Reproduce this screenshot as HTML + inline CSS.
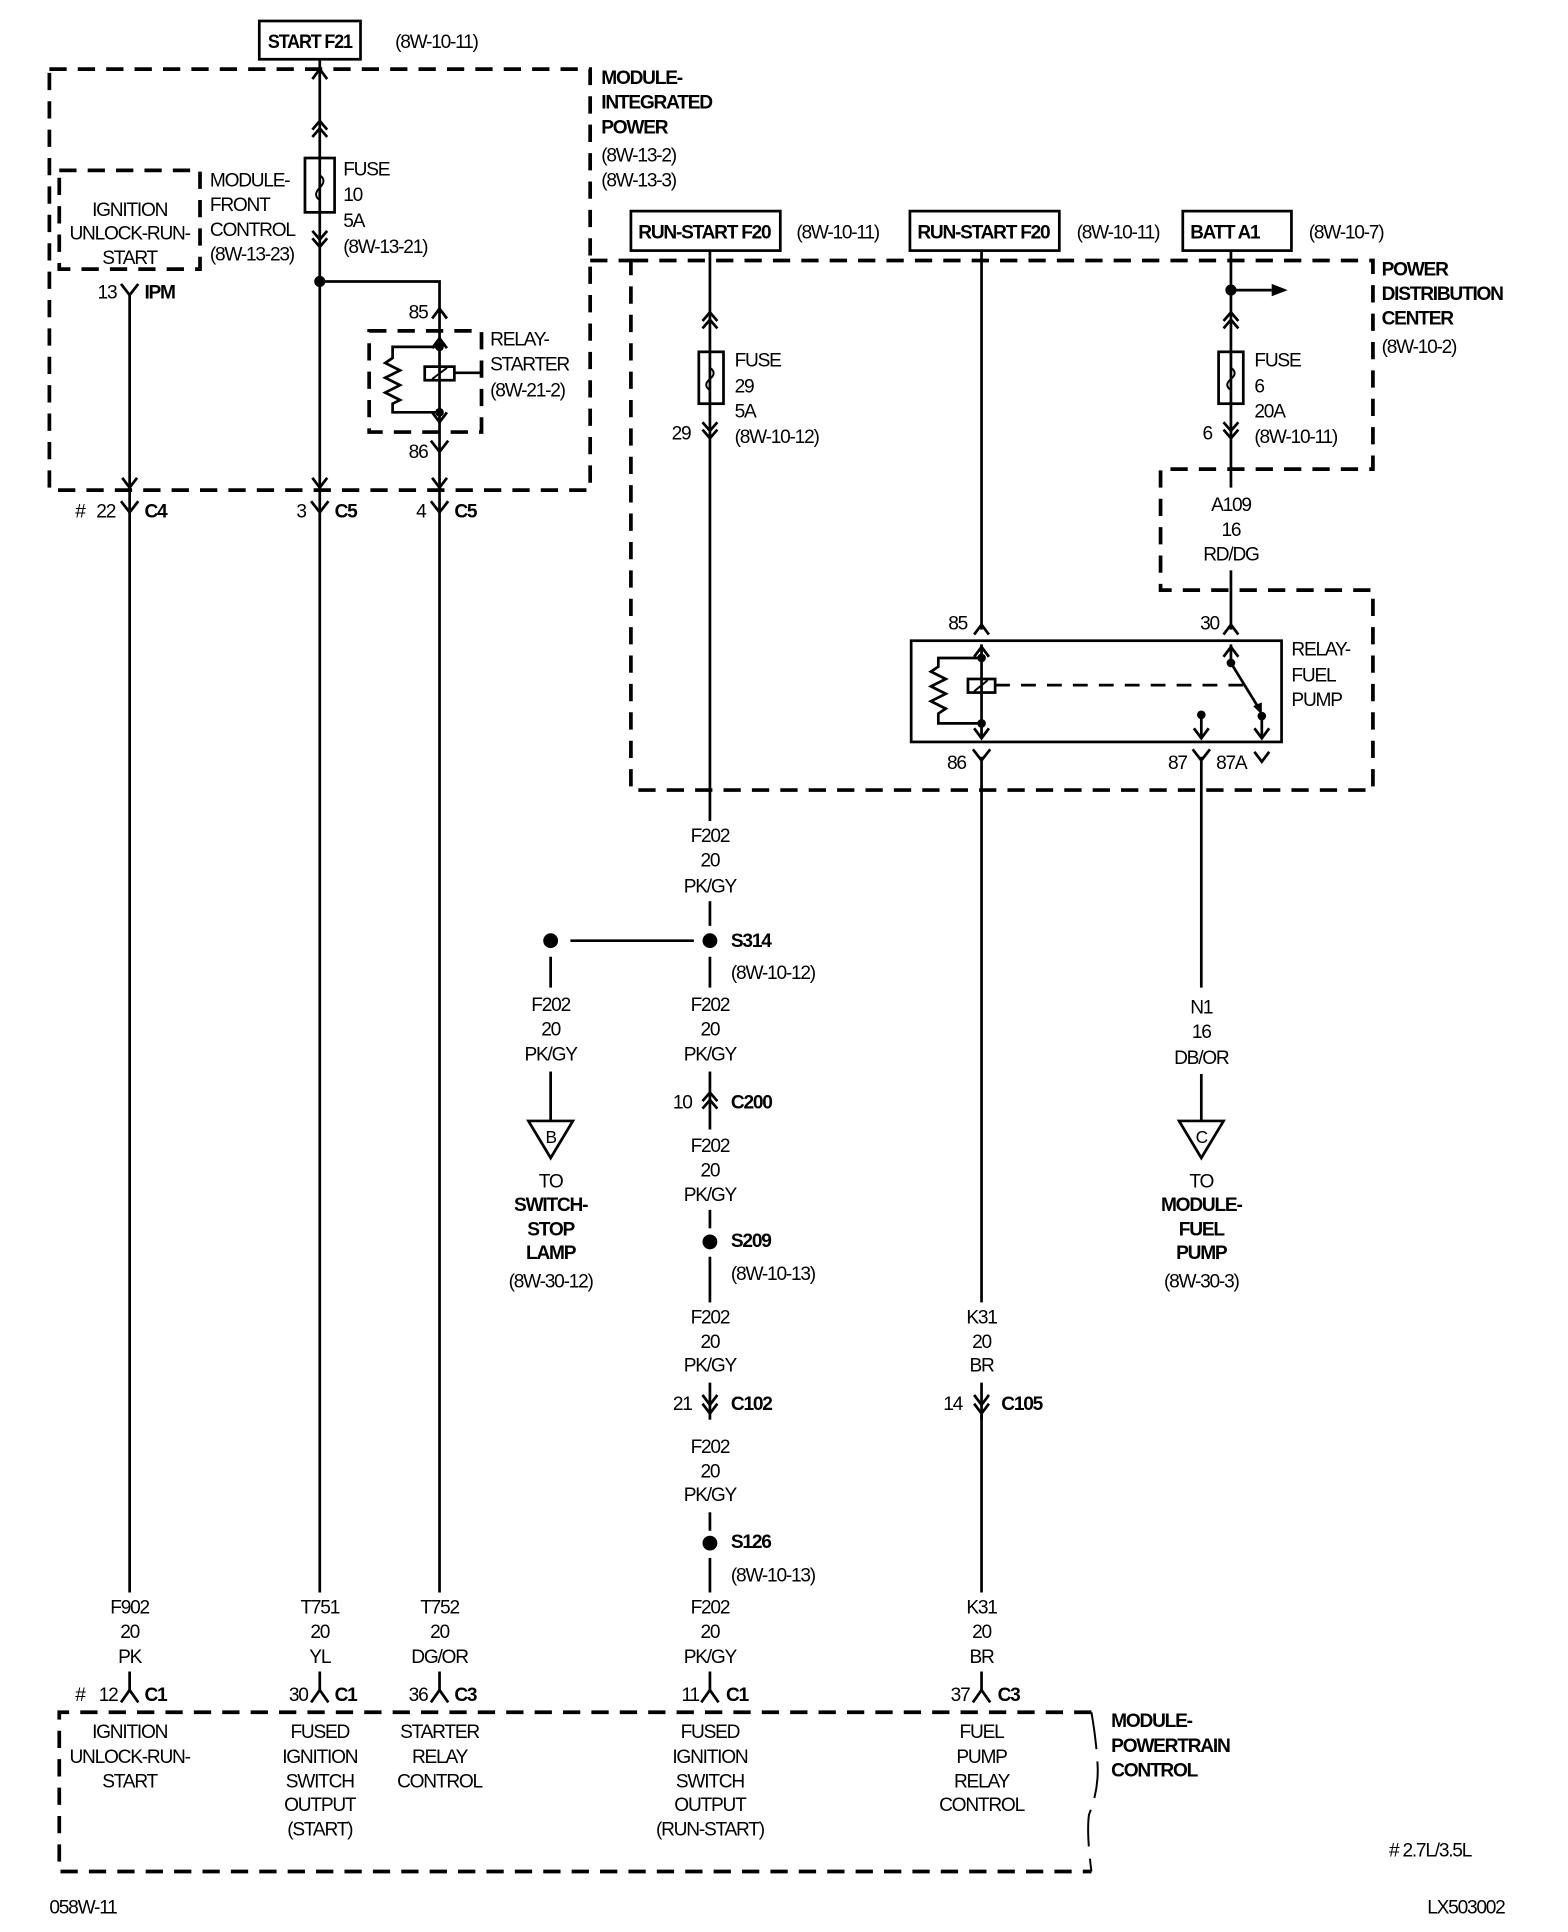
<!DOCTYPE html>
<html><head><meta charset="utf-8"><style>
html,body{margin:0;padding:0;background:#fff;}
svg{display:block;}
text{font-family:"Liberation Sans Narrow","Liberation Sans",sans-serif;font-size:15.5px;fill:#000;letter-spacing:-1px;}
.b{font-weight:bold;}
.m{text-anchor:middle;}
.w{stroke:#000;stroke-width:2.2;fill:none;}
.d{stroke:#000;stroke-width:3;fill:none;stroke-dasharray:14,9;}
.t{stroke:#000;stroke-width:1.6;fill:none;}
</style></head><body>
<svg width="1568" height="1932" viewBox="0 0 1270 1565" preserveAspectRatio="none" xmlns="http://www.w3.org/2000/svg">
<defs>
<path id="Y" d="M-7,-6 L0,3 L7,-6" class="w"/>
<path id="L" d="M-7,7 L0,-3 L7,7" class="w"/>
<path id="UP" d="M-6,6 L0,-2 L6,6" class="w"/>
<g id="UU"><path d="M-6,4 L0,-3 L6,4 M-6,10 L0,3 L6,10" class="w"/></g>
<g id="DD"><path d="M-6,-4 L0,3 L6,-4 M-6,-10 L0,-3 L6,-10" class="w"/></g>
<path id="DN" d="M-6,-6 L0,2 L6,-6" class="w"/>
</defs>

<!-- top left -->
<rect x="210" y="17" width="82" height="31" class="w" stroke-width="2.6"/>
<text x="217" y="39" class="b" textLength="68" lengthAdjust="spacingAndGlyphs">START F21</text>
<text x="320" y="39">(8W-10-11)</text>
<rect x="40" y="56" width="438" height="341" class="d"/>
<text x="487" y="68" class="b">MODULE-</text>
<text x="487" y="88" class="b">INTEGRATED</text>
<text x="487" y="108" class="b">POWER</text>
<text x="487" y="131">(8W-13-2)</text>
<text x="487" y="151">(8W-13-3)</text>

<line x1="259" y1="48" x2="259" y2="397" class="w"/>
<use href="#UP" x="259" y="58"/>
<use href="#UU" x="259" y="101"/>
<rect x="247" y="128" width="24" height="44" fill="#fff" class="w" stroke-width="1.8"/>
<path d="M259,128 L259,142 Q265,146 259,152 Q253,158 259,162 L259,172" class="t"/>
<use href="#DD" x="259" y="197"/>
<text x="278" y="142">FUSE</text>
<text x="278" y="163">10</text>
<text x="278" y="184">5A</text>
<text x="278" y="205">(8W-13-21)</text>
<circle cx="259" cy="228" r="4.5"/>
<polyline points="259,228 356,228 356,397" class="w"/>
<use href="#UP" x="356" y="252"/>
<text x="331" y="258">85</text>
<rect x="299" y="268" width="91" height="82" class="d" stroke-dasharray="10,8"/>
<use href="#UP" x="356" y="276"/>
<circle cx="356" cy="281" r="3.5"/><circle cx="356" cy="334" r="3.5"/>
<use href="#DN" x="356" y="340"/>
<polyline points="356,281 318,281 318,290 312,294 324,300 312,306 324,312 312,318 324,324 318,327 318,334 356,334" class="w" stroke-width="1.8"/>
<rect x="344" y="297" width="24" height="11" fill="#fff" class="w" stroke-width="1.8"/>
<line x1="350" y1="307" x2="362" y2="298" class="t"/>
<line x1="368" y1="302" x2="390" y2="302" class="w"/>
<text x="397" y="280">RELAY-</text>
<text x="397" y="300">STARTER</text>
<text x="397" y="321">(8W-21-2)</text>
<use href="#Y" x="356" y="363"/>
<text x="331" y="371">86</text>

<rect x="48" y="138" width="114" height="80" class="d" stroke-dasharray="10,8"/>
<text x="105" y="175" class="m">IGNITION</text>
<text x="105" y="194" class="m">UNLOCK-RUN-</text>
<text x="105" y="214" class="m">START</text>
<text x="170" y="151">MODULE-</text>
<text x="170" y="171">FRONT</text>
<text x="170" y="191">CONTROL</text>
<text x="170" y="211">(8W-13-23)</text>
<use href="#Y" x="105" y="236"/>
<text x="79" y="242">13</text>
<text x="117" y="242" class="b">IPM</text>
<line x1="105" y1="238" x2="105" y2="1290" class="w"/>
<use href="#DN" x="105" y="393"/><use href="#DN" x="259" y="393"/><use href="#DN" x="356" y="393"/>
<use href="#Y" x="105" y="412"/><use href="#Y" x="259" y="412"/><use href="#Y" x="356" y="412"/>
<text x="61" y="419">#</text><text x="78" y="419">22</text><text x="117" y="419" class="b">C4</text>
<text x="240" y="419">3</text><text x="271" y="419" class="b">C5</text>
<text x="337" y="419">4</text><text x="368" y="419" class="b">C5</text>
<line x1="259" y1="397" x2="259" y2="1290" class="w"/>
<line x1="356" y1="397" x2="356" y2="1290" class="w"/>

<!-- PDC -->
<line x1="478" y1="211" x2="511" y2="211" class="d"/>
<path d="M511,211 L1112,211 L1112,380 L940,380 L940,478 L1112,478 L1112,640 L511,640 Z" class="d"/>
<text x="1119" y="223" class="b">POWER</text>
<text x="1119" y="243" class="b">DISTRIBUTION</text>
<text x="1119" y="263" class="b">CENTER</text>
<text x="1119" y="286">(8W-10-2)</text>
<rect x="511" y="171" width="121" height="32" class="w" stroke-width="2.6"/>
<text x="517" y="193" class="b" textLength="107" lengthAdjust="spacingAndGlyphs">RUN-START F20</text>
<text x="645" y="193">(8W-10-11)</text>
<rect x="737" y="171" width="121" height="32" class="w" stroke-width="2.6"/>
<text x="743" y="193" class="b" textLength="107" lengthAdjust="spacingAndGlyphs">RUN-START F20</text>
<text x="872" y="193">(8W-10-11)</text>
<rect x="958" y="171" width="88" height="32" class="w" stroke-width="2.6"/>
<text x="964" y="193" class="b" textLength="56" lengthAdjust="spacingAndGlyphs">BATT A1</text>
<text x="1060" y="193">(8W-10-7)</text>

<line x1="575" y1="203" x2="575" y2="665" class="w"/>
<use href="#UU" x="575" y="256"/>
<rect x="566" y="285" width="20" height="42" fill="#fff" class="w" stroke-width="1.8"/>
<path d="M575,285 L575,298 Q581,302 575,307 Q569,312 575,316 L575,327" class="t"/>
<use href="#DD" x="575" y="352"/>
<text x="544" y="356">29</text>
<text x="595" y="297">FUSE</text><text x="595" y="318">29</text><text x="595" y="338">5A</text><text x="595" y="359">(8W-10-12)</text>

<line x1="795" y1="203" x2="795" y2="510" class="w"/>
<use href="#UP" x="795" y="508"/><text x="768" y="510">85</text>

<line x1="997" y1="203" x2="997" y2="395" class="w"/>
<circle cx="997" cy="235" r="4.5"/>
<line x1="997" y1="235" x2="1030" y2="235" class="w"/>
<path d="M1030,230 L1043,235 L1030,240 Z"/>
<use href="#UU" x="997" y="256"/>
<rect x="987" y="285" width="20" height="42" fill="#fff" class="w" stroke-width="1.8"/>
<path d="M997,285 L997,298 Q1003,302 997,307 Q991,312 997,316 L997,327" class="t"/>
<use href="#DD" x="997" y="352"/>
<text x="974" y="356">6</text>
<text x="1016" y="297">FUSE</text><text x="1016" y="318">6</text><text x="1016" y="338">20A</text><text x="1016" y="359">(8W-10-11)</text>
<text x="997" y="414" class="m">A109</text><text x="997" y="434" class="m">16</text><text x="997" y="454" class="m">RD/DG</text>
<line x1="997" y1="462" x2="997" y2="510" class="w"/>
<use href="#UP" x="997" y="508"/><text x="972" y="510">30</text>

<!-- relay fuel pump -->
<rect x="738" y="519" width="300" height="82" class="w" stroke-width="2.8"/>
<use href="#UP" x="795" y="526"/>
<line x1="795" y1="522" x2="795" y2="598" class="w"/>
<circle cx="795" cy="533" r="3.5"/><circle cx="795" cy="586" r="3.5"/>
<use href="#DN" x="795" y="596"/>
<polyline points="795,533 760,533 760,540 754,544 766,550 754,556 766,562 754,568 766,574 760,578 760,586 795,586" class="w" stroke-width="1.8"/>
<rect x="784" y="550" width="22" height="11" fill="#fff" class="w" stroke-width="1.8"/>
<line x1="789" y1="560" x2="800" y2="551" class="t"/>
<line x1="806" y1="555" x2="1012" y2="555" class="w" stroke-dasharray="12,9"/>
<use href="#UP" x="997" y="526"/>
<line x1="997" y1="522" x2="997" y2="536" class="w"/>
<circle cx="997" cy="537" r="3.5"/>
<line x1="997" y1="537" x2="1021" y2="576" class="w"/>
<path d="M1015,572 L1022,579 L1022,569 Z"/>
<circle cx="1022" cy="580" r="3.5"/>
<line x1="1022" y1="580" x2="1022" y2="598" class="w"/><use href="#DN" x="1022" y="596"/>
<circle cx="973" cy="579" r="3.5"/>
<line x1="973" y1="579" x2="973" y2="598" class="w"/><use href="#DN" x="973" y="596"/>
<text x="1046" y="531">RELAY-</text><text x="1046" y="552">FUEL</text><text x="1046" y="572">PUMP</text>
<use href="#Y" x="795" y="613"/><text x="767" y="623">86</text>
<use href="#Y" x="973" y="613"/><text x="946" y="623">87</text>
<text x="985" y="623">87A</text><use href="#DN" x="1022" y="615"/>
<line x1="795" y1="613" x2="795" y2="1055" class="w"/>
<line x1="973" y1="613" x2="973" y2="800" class="w"/>

<!-- F202 chain -->
<text x="575" y="682" class="m">F202</text><text x="575" y="702" class="m">20</text><text x="575" y="723" class="m">PK/GY</text>
<line x1="575" y1="730" x2="575" y2="750" class="w"/>
<circle cx="575" cy="762" r="6"/><circle cx="446" cy="762" r="6"/>
<line x1="462" y1="762" x2="562" y2="762" class="w"/>
<text x="592" y="767" class="b">S314</text><text x="592" y="793">(8W-10-12)</text>
<line x1="575" y1="775" x2="575" y2="800" class="w"/>
<line x1="446" y1="775" x2="446" y2="800" class="w"/>
<text x="446" y="819" class="m">F202</text><text x="446" y="839" class="m">20</text><text x="446" y="859" class="m">PK/GY</text>
<text x="575" y="819" class="m">F202</text><text x="575" y="839" class="m">20</text><text x="575" y="859" class="m">PK/GY</text>
<line x1="446" y1="868" x2="446" y2="908" class="w"/>
<path d="M428,908 L464,908 L446,938 Z" class="w"/><text x="446" y="926" class="m" style="font-size:14px">B</text>
<text x="446" y="962" class="m">TO</text><text x="446" y="981" class="m b">SWITCH-</text><text x="446" y="1001" class="m b">STOP</text><text x="446" y="1020" class="m b">LAMP</text><text x="446" y="1043" class="m">(8W-30-12)</text>
<line x1="575" y1="868" x2="575" y2="915" class="w"/>
<use href="#UU" x="575" y="888"/>
<text x="545" y="898">10</text><text x="592" y="898" class="b">C200</text>
<text x="575" y="933" class="m">F202</text><text x="575" y="953" class="m">20</text><text x="575" y="973" class="m">PK/GY</text>
<line x1="575" y1="980" x2="575" y2="995" class="w"/>
<circle cx="575" cy="1006" r="6"/>
<text x="592" y="1010" class="b">S209</text><text x="592" y="1037">(8W-10-13)</text>
<line x1="575" y1="1018" x2="575" y2="1055" class="w"/>
<text x="575" y="1072" class="m">F202</text><text x="575" y="1092" class="m">20</text><text x="575" y="1111" class="m">PK/GY</text>
<line x1="575" y1="1120" x2="575" y2="1150" class="w"/><use href="#DN" x="575" y="1136"/><use href="#DN" x="575" y="1143"/>
<text x="545" y="1142">21</text><text x="592" y="1142" class="b">C102</text>
<text x="575" y="1177" class="m">F202</text><text x="575" y="1197" class="m">20</text><text x="575" y="1216" class="m">PK/GY</text>
<line x1="575" y1="1225" x2="575" y2="1240" class="w"/>
<circle cx="575" cy="1250" r="6"/>
<text x="592" y="1254" class="b">S126</text><text x="592" y="1281">(8W-10-13)</text>
<line x1="575" y1="1262" x2="575" y2="1290" class="w"/>
<text x="575" y="1307" class="m">F202</text><text x="575" y="1327" class="m">20</text><text x="575" y="1347" class="m">PK/GY</text>
<line x1="575" y1="1354" x2="575" y2="1371" class="w"/>

<text x="795" y="1072" class="m">K31</text><text x="795" y="1092" class="m">20</text><text x="795" y="1111" class="m">BR</text>
<line x1="795" y1="1120" x2="795" y2="1150" class="w"/><use href="#DN" x="795" y="1136"/><use href="#DN" x="795" y="1143"/>
<text x="764" y="1142">14</text><text x="811" y="1142" class="b">C105</text>
<line x1="795" y1="1146" x2="795" y2="1290" class="w"/>
<text x="795" y="1307" class="m">K31</text><text x="795" y="1327" class="m">20</text><text x="795" y="1347" class="m">BR</text>
<line x1="795" y1="1354" x2="795" y2="1371" class="w"/>

<text x="973" y="821" class="m">N1</text><text x="973" y="841" class="m">16</text><text x="973" y="862" class="m">DB/OR</text>
<line x1="973" y1="870" x2="973" y2="908" class="w"/>
<path d="M955,908 L991,908 L973,938 Z" class="w"/><text x="973" y="926" class="m" style="font-size:14px">C</text>
<text x="973" y="962" class="m">TO</text><text x="973" y="981" class="m b">MODULE-</text><text x="973" y="1001" class="m b">FUEL</text><text x="973" y="1020" class="m b">PUMP</text><text x="973" y="1043" class="m">(8W-30-3)</text>

<!-- bottom left wires labels -->
<text x="105" y="1307" class="m">F902</text><text x="105" y="1327" class="m">20</text><text x="105" y="1347" class="m">PK</text>
<text x="259" y="1307" class="m">T751</text><text x="259" y="1327" class="m">20</text><text x="259" y="1347" class="m">YL</text>
<text x="356" y="1307" class="m">T752</text><text x="356" y="1327" class="m">20</text><text x="356" y="1347" class="m">DG/OR</text>
<line x1="105" y1="1354" x2="105" y2="1371" class="w"/>
<line x1="259" y1="1354" x2="259" y2="1371" class="w"/>
<line x1="356" y1="1354" x2="356" y2="1371" class="w"/>
<use href="#L" x="105" y="1372"/><use href="#L" x="259" y="1372"/><use href="#L" x="356" y="1372"/><use href="#L" x="575" y="1372"/><use href="#L" x="795" y="1372"/>
<text x="61" y="1378">#</text><text x="80" y="1378">12</text><text x="117" y="1378" class="b">C1</text>
<text x="234" y="1378">30</text><text x="271" y="1378" class="b">C1</text>
<text x="331" y="1378">36</text><text x="368" y="1378" class="b">C3</text>
<text x="552" y="1378">11</text><text x="588" y="1378" class="b">C1</text>
<text x="770" y="1378">37</text><text x="808" y="1378" class="b">C3</text>

<!-- PCM -->
<path d="M884,1387 L48,1387 L48,1516 L884,1516" class="d"/>
<path d="M884,1387 Q888,1410 889,1430 Q890,1450 882,1470 Q880,1485 884,1516" class="t" stroke-width="1" stroke-dasharray="30,10"/>
<text x="900" y="1399" class="b">MODULE-</text><text x="900" y="1419" class="b">POWERTRAIN</text><text x="900" y="1439" class="b">CONTROL</text>
<text x="105" y="1408" class="m">IGNITION</text><text x="105" y="1428" class="m">UNLOCK-RUN-</text><text x="105" y="1448" class="m">START</text>
<text x="259" y="1408" class="m">FUSED</text><text x="259" y="1428" class="m">IGNITION</text><text x="259" y="1448" class="m">SWITCH</text><text x="259" y="1467" class="m">OUTPUT</text><text x="259" y="1487" class="m">(START)</text>
<text x="356" y="1408" class="m">STARTER</text><text x="356" y="1428" class="m">RELAY</text><text x="356" y="1448" class="m">CONTROL</text>
<text x="575" y="1408" class="m">FUSED</text><text x="575" y="1428" class="m">IGNITION</text><text x="575" y="1448" class="m">SWITCH</text><text x="575" y="1467" class="m">OUTPUT</text><text x="575" y="1487" class="m">(RUN-START)</text>
<text x="795" y="1408" class="m">FUEL</text><text x="795" y="1428" class="m">PUMP</text><text x="795" y="1448" class="m">RELAY</text><text x="795" y="1467" class="m">CONTROL</text>

<text x="1125" y="1504">#  2.7L/3.5L</text>
<text x="40" y="1550">058W-11</text>
<text x="1156" y="1550">LX503002</text>
</svg>
</body></html>
